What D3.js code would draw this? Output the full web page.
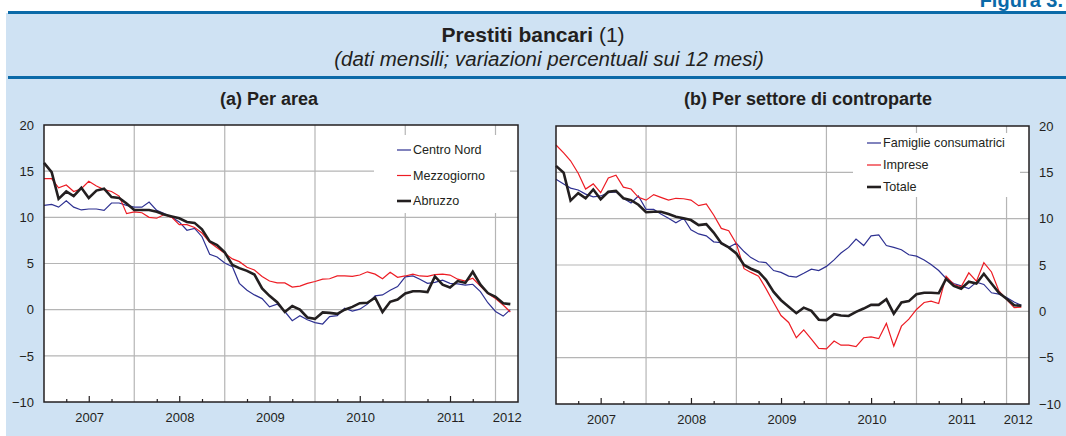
<!DOCTYPE html>
<html>
<head>
<meta charset="utf-8">
<script src="https://cdn.jsdelivr.net/npm/d3@7"></script>
<style>
  body { margin: 0; background: #fff; }
  svg { display: block; font-family: "Liberation Sans", Arial, sans-serif; }
</style>
</head>
<body>
<svg id="chart" width="1066" height="436"></svg>
<script>
// monthly observations, Jan 2007 - Mar 2012
const months = d3.timeMonth.range(new Date(2007, 0, 1), new Date(2012, 3, 1));
const yearLabels = ['2007', '2008', '2009', '2010', '2011', '2012'];
const yTicks = [-10, -5, 0, 5, 10, 15, 20];

// (a) Per area
const centroNord = [
  11.3, 11.4, 11.1, 11.8, 11.1, 10.8, 10.9, 10.9, 10.75, 11.55, 11.55, 11.3, 11.1,
  11.1, 11.65, 10.75, 10.4, 10.0, 9.5, 8.6, 8.8, 7.9, 6.0, 5.7, 5.05, 4.65,
  2.85, 2.1, 1.6, 1.2, 0.3, 0.6, -0.2, -1.2, -0.65, -1.1, -1.4, -1.55, -0.75,
  -0.65, 0.15, -0.15, 0.05, 0.6, 1.5, 1.6, 2.1, 2.5, 3.55, 3.65, 3.3, 2.85,
  2.95, 3.2, 2.85, 2.8, 2.65, 2.75, 1.95, 0.75, -0.2, -0.7, 0.0
];
const mezzogiorno = [
  14.2, 14.2, 13.2, 13.5, 12.8, 13.1, 13.9, 13.4, 13.0, 12.8, 12.3, 10.4, 10.6,
  10.5, 10.0, 9.9, 10.3, 10.0, 9.2, 9.2, 8.9, 8.3, 7.3, 6.7, 6.1, 5.5,
  5.2, 4.6, 4.3, 3.6, 3.1, 2.9, 2.9, 2.45, 2.55, 2.85, 3.05, 3.3, 3.35,
  3.65, 3.65, 3.6, 3.75, 4.1, 3.85, 3.35, 4.05, 3.5, 3.65, 3.85, 3.65, 3.6,
  3.8, 3.85, 3.75, 3.3, 3.1, 3.4, 2.55, 1.75, 1.2, 0.5, -0.25
];
const abruzzo = [
  15.9, 14.9, 12.0, 12.8, 12.3, 13.2, 12.1, 12.9, 13.1, 12.2, 12.1, 11.5, 10.8,
  10.8, 10.8, 10.6, 10.3, 10.1, 9.9, 9.5, 9.4, 8.7, 7.4, 7.0, 6.2, 4.85,
  4.5, 4.2, 3.8, 2.3, 1.5, 0.8, -0.25, 0.4, 0.0, -0.85, -1.0, -0.3, -0.35,
  -0.45, 0.0, 0.3, 0.7, 0.75, 1.3, -0.25, 0.85, 1.1, 1.75, 2.0, 2.0, 1.9,
  3.6, 2.7, 2.4, 3.1, 2.9, 4.1, 2.7, 1.8, 1.4, 0.7, 0.6
];

// (b) Per settore di controparte
const famiglie = [
  14.25, 13.75, 13.3, 13.1, 12.65, 12.35, 12.45, 12.8, 12.9, 12.2, 11.7, 12.45, 11.0,
  11.0, 10.5, 10.05, 9.55, 10.05, 8.8, 8.35, 8.15, 7.5, 7.4, 6.9, 7.35, 6.45,
  5.8, 5.35, 5.25, 4.4, 4.2, 3.8, 3.7, 4.1, 4.55, 4.4, 4.85, 5.55, 6.3,
  6.9, 7.8, 7.1, 8.15, 8.25, 7.1, 6.9, 6.65, 6.1, 5.95, 5.55, 5.05, 4.4,
  3.55, 3.0, 2.75, 2.45, 3.15, 2.9, 2.0, 1.85, 1.5, 1.0, 0.65
];
const imprese = [
  17.95, 17.1, 16.25, 14.9, 13.2, 13.75, 12.8, 14.4, 14.7, 13.4, 13.2, 12.3, 12.0,
  12.6, 12.3, 12.0, 12.2, 12.15, 12.0, 11.4, 11.6, 10.4, 8.95, 8.7, 7.3, 4.6,
  4.2, 3.8, 2.45, 0.95, -0.45, -1.2, -2.85, -2.0, -3.0, -4.0, -4.05, -3.2, -3.65,
  -3.65, -3.8, -2.85, -2.75, -2.95, -1.3, -3.75, -1.6, -0.85, 0.2, 0.95, 1.1, 0.85,
  3.8, 2.9, 2.65, 4.15, 3.25, 5.25, 4.25, 2.2, 1.3, 0.4, 0.45
];
const totale = [
  15.7, 14.95, 11.95, 12.75, 12.2, 13.15, 12.1, 12.9, 13.0, 12.2, 12.0, 11.5, 10.7,
  10.75, 10.75, 10.5, 10.2, 10.05, 9.85, 9.3, 9.4, 8.5, 7.35, 6.9, 6.25, 5.0,
  4.6, 4.25, 3.4, 2.1, 1.2, 0.5, -0.2, 0.4, 0.05, -0.9, -0.95, -0.3, -0.45,
  -0.5, -0.05, 0.3, 0.7, 0.7, 1.3, -0.25, 0.95, 1.1, 1.85, 2.0, 2.0, 1.95,
  3.5, 2.75, 2.45, 3.2, 3.0, 4.05, 3.0, 2.0, 1.35, 0.65, 0.6
];

const BLUE = '#2e3192', RED = '#ed1c24', BLACK = '#231f20';
const TEXT = '#231f20';
const GRID = '#b5b5b5';
const BG = '#cfe2f3';
const RULE = '#0b6aa8';

const svg = d3.select('#chart');

// page background and header
svg.append('rect').attr('x', 6).attr('y', 13).attr('width', 1060).attr('height', 423).attr('fill', BG);
svg.append('rect').attr('x', 8).attr('y', 11).attr('width', 1058).attr('height', 3).attr('fill', RULE);
svg.append('rect').attr('x', 8).attr('y', 76).attr('width', 1058).attr('height', 3).attr('fill', RULE);

svg.append('text')
  .attr('x', 1063).attr('y', 7)
  .attr('text-anchor', 'end')
  .attr('font-size', 20).attr('font-weight', 'bold')
  .attr('fill', RULE)
  .text('Figura 3.');

const title = svg.append('text')
  .attr('x', 533).attr('y', 42)
  .attr('text-anchor', 'middle')
  .attr('font-size', 21)
  .attr('fill', TEXT);
title.append('tspan').attr('font-weight', 'bold').text('Prestiti bancari');
title.append('tspan').text(' (1)');

svg.append('text')
  .attr('x', 549).attr('y', 66)
  .attr('text-anchor', 'middle')
  .attr('font-size', 20.5).attr('font-style', 'italic')
  .attr('fill', TEXT)
  .text('(dati mensili; variazioni percentuali sui 12 mesi)');

function drawPanel(cfg) {
  const x = d3.scaleTime()
    .domain([months[0], d3.timeMonth.offset(months[months.length - 1], 1)])
    .range([cfg.left, cfg.right]);
  const y = d3.scaleLinear().domain([-10, 20]).range([cfg.bottom, cfg.top]);

  const g = svg.append('g');

  g.append('text')
    .attr('x', cfg.titleX).attr('y', 105)
    .attr('text-anchor', 'middle')
    .attr('font-size', 18).attr('font-weight', 'bold')
    .attr('fill', TEXT)
    .text(cfg.title);

  g.append('rect')
    .attr('x', cfg.left).attr('y', cfg.top)
    .attr('width', cfg.right - cfg.left).attr('height', cfg.bottom - cfg.top)
    .attr('fill', '#fff');

  // grid
  const yearStarts = d3.timeYear.range(d3.timeYear.offset(x.domain()[0], 1), x.domain()[1]);
  g.append('g').selectAll('line')
    .data(yearStarts)
    .join('line')
    .attr('x1', d => x(d)).attr('x2', d => x(d))
    .attr('y1', cfg.top).attr('y2', cfg.bottom)
    .attr('stroke', GRID).attr('stroke-width', 1.2);
  g.append('g').selectAll('line')
    .data(yTicks.filter(d => d > -10 && d < 20))
    .join('line')
    .attr('x1', cfg.left).attr('x2', cfg.right)
    .attr('y1', d => y(d)).attr('y2', d => y(d))
    .attr('stroke', GRID).attr('stroke-width', 1.2);

  // legend box hides the grid
  g.append('rect')
    .attr('x', cfg.legend.x0).attr('y', cfg.legend.y0)
    .attr('width', cfg.legend.x1 - cfg.legend.x0).attr('height', cfg.legend.y1 - cfg.legend.y0)
    .attr('fill', '#fff');

  // x axis ticks, pointing inward
  const quarters = d3.timeMonth.every(3).range(x.domain()[0], x.domain()[1])
    .filter(d => d.getMonth() === 3 || d.getMonth() === 9);
  const midYears = d3.timeMonth.range(x.domain()[0], x.domain()[1]).filter(d => d.getMonth() === 6);

  const minorAxis = d3.axisBottom(x).tickValues(quarters).tickSize(-3).tickFormat('');
  const majorAxis = d3.axisBottom(x).tickValues(midYears).tickSize(-6).tickFormat('');
  [minorAxis, majorAxis].forEach(ax => {
    const a = g.append('g').attr('transform', `translate(0,${cfg.bottom})`).call(ax);
    a.select('.domain').remove();
    a.selectAll('line').attr('stroke', BLACK).attr('stroke-width', 1.2);
  });

  // year labels centred on the part of the year that is shown
  const labelPos = yearLabels.map(yr => {
    const a = new Date(+yr, 0, 1);
    const b = d3.min([new Date(+yr + 1, 0, 1), x.domain()[1]]);
    return new Date((+a + +b) / 2);
  });
  const labelAxis = d3.axisBottom(x).tickValues(labelPos).tickSize(0).tickPadding(11)
    .tickFormat((d, i) => yearLabels[i]);
  const la = g.append('g').attr('transform', `translate(0,${cfg.bottom})`).call(labelAxis);
  la.select('.domain').remove();
  la.selectAll('text').attr('font-size', 13).attr('fill', TEXT).attr('font-family', null);

  // y axis labels
  const yAxis = (cfg.axisSide === 'left' ? d3.axisLeft(y) : d3.axisRight(y))
    .tickValues(yTicks).tickSize(0).tickPadding(10);
  const ya = g.append('g')
    .attr('transform', `translate(${cfg.axisSide === 'left' ? cfg.left : cfg.right},0)`)
    .call(yAxis);
  ya.select('.domain').remove();
  ya.selectAll('text').attr('font-size', 13).attr('fill', TEXT).attr('font-family', null);

  // series
  const line = d3.line().x((d, i) => x(months[i])).y(d => y(d));
  cfg.series.forEach(s => {
    g.append('path')
      .datum(s.values)
      .attr('fill', 'none')
      .attr('stroke', s.color)
      .attr('stroke-width', s.width)
      .attr('stroke-linejoin', 'miter')
      .attr('d', line);
  });

  // frame
  g.append('rect')
    .attr('x', cfg.left).attr('y', cfg.top)
    .attr('width', cfg.right - cfg.left).attr('height', cfg.bottom - cfg.top)
    .attr('fill', 'none').attr('stroke', BLACK).attr('stroke-width', 1.5);

  // legend
  const items = g.append('g').selectAll('g')
    .data(cfg.series)
    .join('g')
    .attr('transform', (d, i) => `translate(${cfg.legend.sx},${cfg.legend.sy + i * cfg.legend.step})`);
  items.append('line')
    .attr('x1', 0).attr('x2', 14)
    .attr('stroke', d => d.color)
    .attr('stroke-width', d => d.width);
  items.append('text')
    .attr('x', 16).attr('dy', '0.35em')
    .attr('font-size', 12.6)
    .attr('fill', TEXT)
    .text(d => d.name);
}

drawPanel({
  title: '(a) Per area', titleX: 269,
  left: 44, right: 518, top: 125, bottom: 402,
  axisSide: 'left',
  legend: { x0: 374, x1: 510, y0: 135, y1: 213, sx: 397, sy: 150, step: 25.5 },
  series: [
    { name: 'Centro Nord', values: centroNord, color: BLUE, width: 1.2 },
    { name: 'Mezzogiorno', values: mezzogiorno, color: RED, width: 1.2 },
    { name: 'Abruzzo', values: abruzzo, color: BLACK, width: 2.6 }
  ]
});

drawPanel({
  title: '(b) Per settore di controparte', titleX: 808,
  left: 556, right: 1029, top: 126, bottom: 404,
  axisSide: 'right',
  legend: { x0: 853, x1: 1020, y0: 133, y1: 197, sx: 867, sy: 143, step: 22 },
  series: [
    { name: 'Famiglie consumatrici', values: famiglie, color: BLUE, width: 1.2 },
    { name: 'Imprese', values: imprese, color: RED, width: 1.2 },
    { name: 'Totale', values: totale, color: BLACK, width: 2.6 }
  ]
});
</script>
</body>
</html>
